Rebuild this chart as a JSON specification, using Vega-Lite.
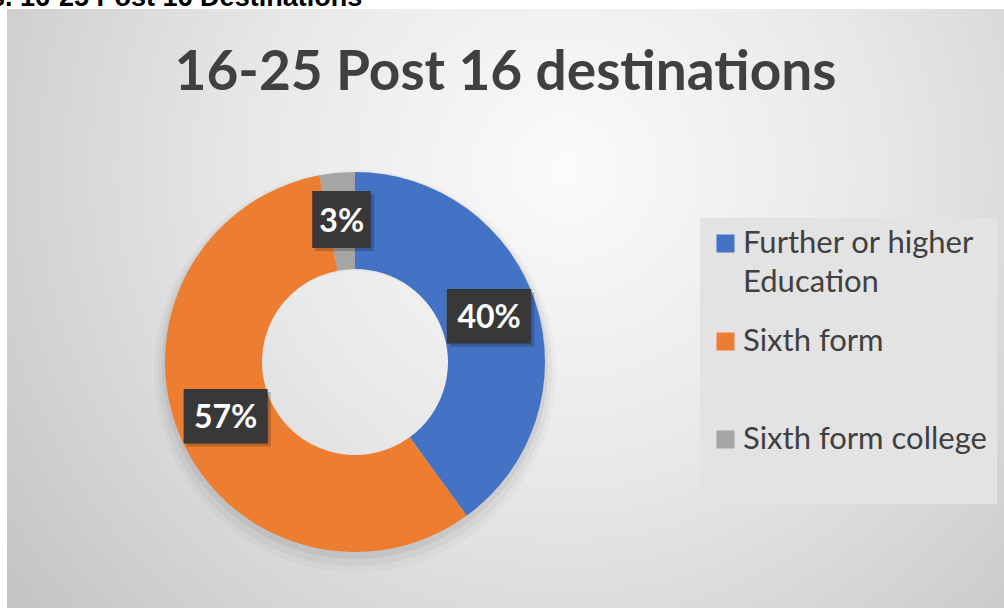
{
  "$schema": "https://vega.github.io/schema/vega-lite/v6.json",
  "width": 997,
  "height": 599,
  "autosize": {"type": "none"},
  "padding": {"left": 7, "top": 9, "right": 0, "bottom": 0},
  "background": "white",
  "title": {
    "text": "16-25 Post 16 destinations",
    "anchor": "middle",
    "frame": "group",
    "offset": -118,
    "zindex": 1,
    "font": "Lato",
    "fontSize": 55,
    "fontWeight": "bold",
    "color": "#404040"
  },
  "config": {
    "view": {"stroke": "#b4b4b4", "strokeWidth": 1},
    "style": {"guide-label": {"lineHeight": 39}}
  },
  "datasets": {
    "slices": [
      {"cat": "Further or higher Education", "pct": 0.40, "rank": 1},
      {"cat": "Sixth form", "pct": 0.57, "rank": 2},
      {"cat": "Sixth form college", "pct": 0.03, "rank": 3}
    ],
    "one": [{"v": 1}]
  },
  "layer": [
    {
      "data": {"name": "one"},
      "mark": {
        "type": "rect",
        "color": {
          "gradient": "radial",
          "x1": 0.56, "y1": 0.36, "r1": 0,
          "x2": 0.56, "y2": 0.36, "r2": 0.78,
          "stops": [
            {"offset": 0, "color": "#fbfbfb"},
            {"offset": 0.4, "color": "#e8e8e8"},
            {"offset": 1, "color": "#bdbdbd"}
          ]
        }
      },
      "encoding": {
        "x": {"value": 0}, "x2": {"value": "width"},
        "y": {"value": 0}, "y2": {"value": "height"}
      }
    },
    {
      "data": {"name": "one"},
      "mark": {"type": "arc", "x": 348, "y": 362, "outerRadius": 201, "innerRadius": 100, "color": "#000000", "opacity": 0.025},
      "encoding": {"theta": {"field": "v", "type": "quantitative"}}
    },
    {
      "data": {"name": "one"},
      "mark": {"type": "arc", "x": 348, "y": 360, "outerRadius": 197, "innerRadius": 100, "color": "#000000", "opacity": 0.035},
      "encoding": {"theta": {"field": "v", "type": "quantitative"}}
    },
    {
      "data": {"name": "one"},
      "mark": {"type": "arc", "x": 348, "y": 357, "outerRadius": 193, "innerRadius": 100, "color": "#000000", "opacity": 0.05},
      "encoding": {"theta": {"field": "v", "type": "quantitative"}}
    },
    {
      "data": {"name": "slices"},
      "mark": {"type": "arc", "x": 348, "y": 353, "outerRadius": 190, "innerRadius": 93, "strokeWidth": 0},
      "encoding": {
        "theta": {"field": "pct", "type": "quantitative", "stack": true},
        "order": {"field": "rank", "type": "quantitative"},
        "color": {
          "field": "cat",
          "type": "nominal",
          "scale": {
            "domain": ["Further or higher Education", "Sixth form", "Sixth form college"],
            "range": ["#4472C4", "#ED7D31", "#A5A5A5"]
          },
          "legend": {
            "orient": "none",
            "legendX": 693,
            "legendY": 209,
            "title": null,
            "fillColor": "#e3e3e3",
            "padding": 10,
            "symbolType": "square",
            "symbolSize": 324,
            "symbolStrokeWidth": 0,
            "labelFont": "Lato",
            "labelFontSize": 31,
            "labelColor": "#404040",
            "labelOffset": 2,
            "labelLimit": 600,
            "rowPadding": 27,
            "labelExpr": "datum.label == 'Further or higher Education' ? ['Further or higher', 'Education'] : [datum.label, '']"
          }
        }
      }
    },
    {
      "data": {"name": "slices"},
      "mark": {"type": "text", "x": 351, "y": 356, "radius": 141, "font": "DejaVu Sans Mono", "align": "center", "baseline": "middle", "color": "#000000", "opacity": 0.2},
      "encoding": {
        "theta": {"field": "pct", "type": "quantitative", "stack": true},
        "order": {"field": "rank", "type": "quantitative"},
        "detail": {"field": "cat"},
        "text": {"condition": {"test": "datum.pct < 0.1", "value": "██"}, "value": "███"},
        "size": {"condition": {"test": "datum.pct < 0.1", "value": 48}, "value": 46}
      }
    },
    {
      "data": {"name": "slices"},
      "mark": {"type": "text", "x": 348, "y": 353, "radius": 141, "font": "DejaVu Sans Mono", "align": "center", "baseline": "middle", "color": "#383838"},
      "encoding": {
        "theta": {"field": "pct", "type": "quantitative", "stack": true},
        "order": {"field": "rank", "type": "quantitative"},
        "detail": {"field": "cat"},
        "text": {"condition": {"test": "datum.pct < 0.1", "value": "██"}, "value": "███"},
        "size": {"condition": {"test": "datum.pct < 0.1", "value": 48}, "value": 46}
      }
    },
    {
      "data": {"name": "slices"},
      "mark": {"type": "text", "x": 348, "y": 353, "radius": 141, "font": "Lato", "fontWeight": "bold", "fontSize": 32, "align": "center", "baseline": "middle", "color": "#ffffff"},
      "encoding": {
        "theta": {"field": "pct", "type": "quantitative", "stack": true},
        "order": {"field": "rank", "type": "quantitative"},
        "detail": {"field": "cat"},
        "text": {"field": "pct", "type": "quantitative", "format": ".0%"}
      }
    },
    {
      "data": {"name": "one"},
      "mark": {"type": "text", "text": "s. 16-25 Post 16 Destinations", "x": -17, "y": -3, "font": "Liberation Sans", "fontWeight": "bold", "fontSize": 27, "align": "left", "baseline": "alphabetic", "color": "#000000"},
      "encoding": {}
    }
  ]
}
